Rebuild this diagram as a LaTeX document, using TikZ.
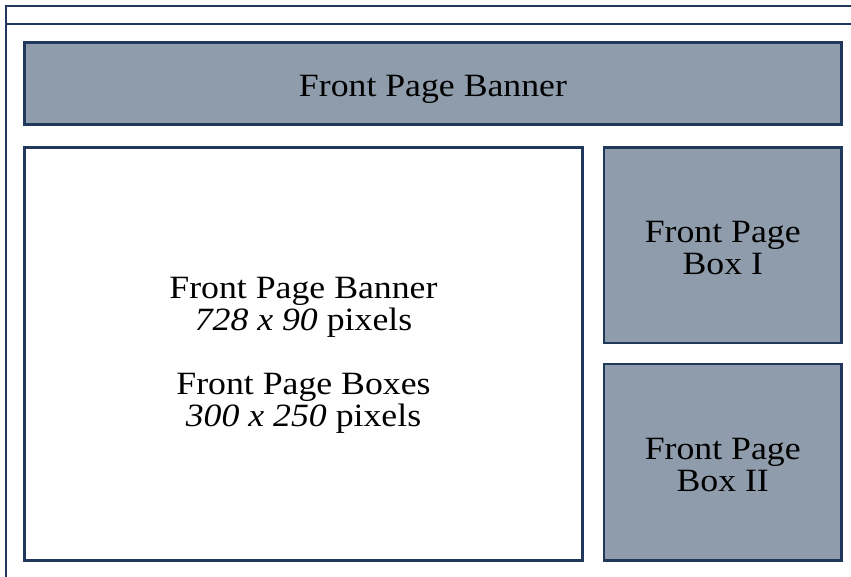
\documentclass[tikz,border=0pt]{standalone}
\usepackage{fontspec}
\setmainfont{Liberation Serif}[FakeStretch=1.1]
\definecolor{navy}{RGB}{31,56,92}
\definecolor{slate}{RGB}{143,156,171}
\begin{document}
\begin{tikzpicture}[x=1pt,y=-1pt,
  frameline/.style={draw=navy,line width=2pt},
  box/.style={draw=navy,line width=2.6pt,inner sep=0pt,anchor=center},
  filledbox/.style={box,fill=slate},
  label text/.style={inner sep=0pt,align=center,font=\fontsize{32.5}{32}\selectfont}]
\useasboundingbox (0,0) rectangle (851,577);
% outer page frame
\coordinate (ftr) at (852,6);
\coordinate (ftl) at (6,6);
\coordinate (fbl) at (6,578);
\coordinate (sl) at (6,24);
\coordinate (sr) at (852,24);
\draw[frameline] (ftr) -- (ftl) -- (fbl);
\draw[frameline] (sl) -- (sr);
% banner
\node[filledbox,minimum width=817pt,minimum height=82pt] (banner) at (433,83.5) {};
\node[label text] (bannertext) at ([yshift=-5.5pt]banner.center) {Front Page Banner};
% main white box
\node[box,fill=white,minimum width=558pt,minimum height=413pt] (main) at (303.5,354) {};
\node[label text] (maintext) at ([yshift=-1pt]main.center)
  {Front Page Banner\\\textit{728 x 90} pixels\\[32pt]Front Page Boxes\\\textit{300 x 250} pixels};
% right boxes
\node[filledbox,minimum width=237.5pt,minimum height=195.5pt] (boxI) at (722.75,245.25) {};
\node[label text] (boxItext) at ([yshift=-2.5pt]boxI.center) {Front Page\\Box I};
\node[filledbox,minimum width=237.5pt,minimum height=196.5pt] (boxII) at (722.75,462.25) {};
\node[label text] (boxIItext) at ([yshift=-2.5pt]boxII.center) {Front Page\\Box II};
\end{tikzpicture}
\end{document}
